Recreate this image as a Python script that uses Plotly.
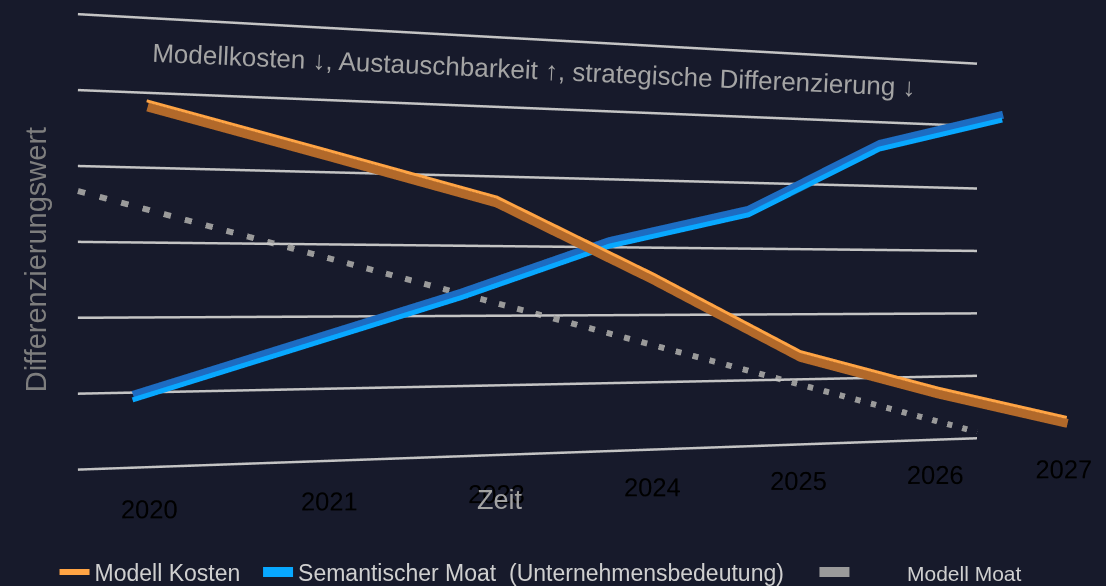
import plotly.graph_objects as go

# ---------------- data ----------------
years = ["2020", "2021", "2023", "2024", "2025", "2026", "2027"]
idx = list(range(len(years)))
modell_kosten = [48.7, 42.8, 36.8, 25.8, 14.0, 7.9, 2.6]
semantischer_moat = [9.7, 16.5, 23.3, 30.9, 35.9, 46.6, 52.0]
modell_moat_x = [0, 6]
modell_moat = [36.7, 1.0]
grid_levels = [0, 10, 20, 30, 40, 50, 60]

BG = "#171a2b"
FONT = "Liberation Sans"
XR = [idx[0] - 0.001, idx[-1] + 0.001]
ZR = [-0.05, 60.05]
ZR_LABELS = [-2.8, 60.05]          # taller box for the scene that carries the year labels
NB = "\u00a0"

fig = go.Figure()

# back wall gridlines (from tick levels) + dashed series  -> scene (A)
gx, gy, gz = [], [], []
for lv in grid_levels:
    gx += [idx[0], idx[-1], None]
    gy += [0, 0, None]
    gz += [lv, lv, None]
fig.add_trace(go.Scatter3d(x=gx, y=gy, z=gz, mode="lines", scene="scene",
                           line=dict(color="#c4c4c4", width=5), showlegend=False,
                           hoverinfo="skip", connectgaps=False))
fig.add_trace(go.Scatter3d(x=modell_moat_x, y=[0, 0], z=modell_moat, mode="lines", scene="scene",
                           line=dict(color="#9a9a9a", width=12, dash="dash"),
                           name="<span style='font-size:21px'>" + NB * 9 + "Modell Moat</span>",
                           legendrank=3))

# blue ribbon: dark body (scene2) + bright edge (scene3)
fig.add_trace(go.Scatter3d(x=idx, y=[0]*7, z=semantischer_moat, mode="lines", scene="scene2",
                           line=dict(color="#1d6cc2", width=16), showlegend=False, hoverinfo="skip"))
fig.add_trace(go.Scatter3d(x=idx, y=[0]*7, z=semantischer_moat, mode="lines", scene="scene3",
                           line=dict(color="#08a8ff", width=10), legendrank=2,
                           name="Semantischer Moat  (Unternehmensbedeutung)" + NB * 4))
# orange ribbon: dark body (scene4) + bright edge (scene5)
fig.add_trace(go.Scatter3d(x=idx, y=[0]*7, z=modell_kosten, mode="lines", scene="scene4",
                           line=dict(color="#b2692a", width=18), showlegend=False, hoverinfo="skip"))
fig.add_trace(go.Scatter3d(x=idx, y=[0]*7, z=modell_kosten, mode="lines", scene="scene5",
                           line=dict(color="#ffa444", width=6), name="Modell Kosten" + NB * 2,
                           legendrank=1))


def hidden_axis(rng):
    return dict(range=rng, showgrid=False, showline=False, showticklabels=False, ticks="",
                zeroline=False, showbackground=False, showspikes=False, title=dict(text=""))


def make_scene(eye, center, arx, zr=ZR, show_x=False):
    xa = hidden_axis(XR)
    if show_x:
        xa.update(showticklabels=True, tickvals=idx, ticktext=years, tickangle=0,
                  tickfont=dict(color="#000000", size=17.5, family=FONT))
    arz = (zr[1] - zr[0]) / (ZR[1] - ZR[0])
    return dict(
        domain=dict(x=[0, 1], y=[0, 1]),
        xaxis=xa, yaxis=hidden_axis([-1, 1]), zaxis=hidden_axis(zr),
        aspectmode="manual", aspectratio=dict(x=arx, y=0.02, z=arz),
        camera=dict(eye=dict(x=eye[0], y=eye[1], z=eye[2]),
                    center=dict(x=center[0], y=center[1], z=center[2]),
                    up=dict(x=0, y=0, z=1), projection=dict(type="perspective")),
        bgcolor="rgba(0,0,0,0)",
    )


eyeA, cenA, arA = (-0.3057, -1.691, -0.112), (-0.0450, 0, -0.112), 2.198
eyeB, cenB, arB = (-0.5129, -1.691, -0.111), (-0.2521, 0, -0.116), 2.3307
eyeC, cenC, arC = (-0.4005, -1.691, -0.112), (-0.1398, 0, -0.100), 2.1638

# shift of the camera when the label scene's z box is extended downwards
dz = ((ZR[0] + ZR[1]) / 2 - (ZR_LABELS[0] + ZR_LABELS[1]) / 2) / (ZR[1] - ZR[0])

fig.update_layout(
    width=1106, height=586,
    paper_bgcolor=BG, plot_bgcolor=BG,
    margin=dict(l=0, r=0, t=0, b=0, autoexpand=False),
    font=dict(family=FONT, color="#c8c8c8"),
    scene=make_scene(eyeA, cenA, arA),
    scene2=make_scene(eyeC, (cenC[0], cenC[1], cenC[2] - 0.012), arC),
    scene3=make_scene(eyeC, cenC, arC),
    scene4=make_scene(eyeB, (cenB[0], cenB[1], cenB[2] + 0.014), arB),
    scene5=make_scene((eyeB[0], eyeB[1], eyeB[2] + dz), (cenB[0], cenB[1], cenB[2] + dz), arB,
                      zr=ZR_LABELS, show_x=True),
    legend=dict(orientation="h", x=0.0493, y=0.024, xanchor="left", yanchor="middle",
                font=dict(size=23, color="#cfcfcf", family=FONT), bgcolor="rgba(0,0,0,0)",
                traceorder="normal"),
    annotations=[
        dict(text="Modellkosten ↓, Austauschbarkeit ↑, strategische Differenzierung ↓",
             x=0.483, y=0.881, xref="paper", yref="paper", xanchor="center", yanchor="middle",
             showarrow=False, textangle=2.6, font=dict(size=26, color="#a4a4a4", family=FONT)),
        dict(text="Differenzierungswert", x=0.032, y=0.5565, xref="paper", yref="paper",
             xanchor="center", yanchor="middle",
             showarrow=False, textangle=-90, font=dict(size=29, color="#7e7e7e", family=FONT)),
        dict(text="Zeit", x=0.452, y=0.146, xref="paper", yref="paper",
             xanchor="center", yanchor="middle",
             showarrow=False, font=dict(size=27, color="#a2a2a2", family=FONT)),
    ],
)

fig.write_html("out.html", config={"displayModeBar": False},
               post_script="document.body.style.margin='0';")
